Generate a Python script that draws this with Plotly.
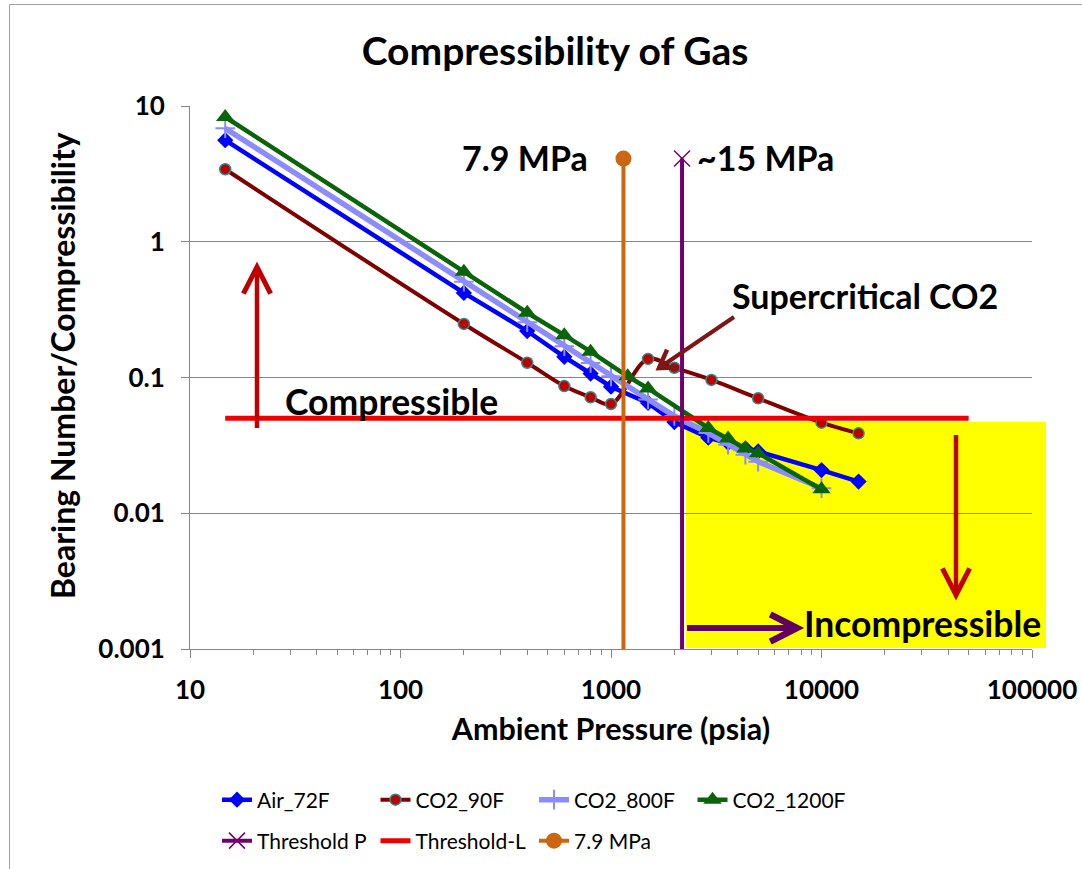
import math
import plotly.graph_objects as go

# ---- data: bearing number / compressibility vs ambient pressure (psia) ----
air_p = [14.7, 200, 400, 600, 800, 1000, 1500, 2000, 2900, 3600, 4350, 5000, 10000, 15000]
air_b = [5.6, 0.42, 0.22, 0.142, 0.107, 0.0855, 0.065, 0.047, 0.036, 0.033, 0.030, 0.0285, 0.0208, 0.0171]

co2_90_p = [14.7, 200, 400, 600, 800, 1000, 1500, 2000, 3000, 5000, 10000, 15000]
co2_90_b = [3.42, 0.248, 0.1285, 0.0865, 0.0715, 0.0638, 0.137, 0.118, 0.096, 0.0703, 0.0465, 0.0388]

co2_800_p = [14.7, 200, 400, 600, 800, 1000, 1500, 2000, 2900, 3600, 4350, 5000, 10000]
co2_800_b = [6.85, 0.508, 0.255, 0.17, 0.128, 0.102, 0.069, 0.052, 0.039, 0.032, 0.027, 0.024, 0.0153]

co2_1200_p = [14.7, 200, 400, 600, 800, 1200, 1500, 2900, 3600, 4350, 5000, 10000]
co2_1200_b = [8.3, 0.6, 0.3, 0.205, 0.155, 0.102, 0.083, 0.0425, 0.0355, 0.030, 0.0277, 0.015]

threshold_p_x = [2175, 2175]        # ~15 MPa
threshold_p_y = [4.1, 0.001]
threshold_l_x = [14.7, 50000]
threshold_l_y = [0.05, 0.05]
crit_x = [1146, 1146]               # 7.9 MPa
crit_y = [4.1, 0.001]

x_tick_vals = [10, 100, 1000, 10000, 100000]
x_tick_text = ["10", "100", "1000", "10000", "100000"]
y_tick_vals = [0.001, 0.01, 0.1, 1, 10]
y_tick_text = ["0.001", "0.01", "0.1", "1", "10"]
x_minor_vals = [m * 10 ** k for k in range(1, 5) for m in range(2, 10)]

# ---- layout geometry (pixels) ----
W, H = 1082, 869
L, R, T, B = 190, 50, 106, 220
PW = W - L - R
PH = H - T - B


def px(x):
    return (x - L) / PW


def py(y):
    return (H - B - y) / PH


FONT = "Lato"
GRID = "#868686"

fig = go.Figure()

fig.add_trace(go.Scatter(
    x=air_p, y=air_b, name="Air_72F", mode="lines+markers", legend="legend",
    line=dict(color="#0000FF", width=4.5),
    marker=dict(symbol="diamond", size=12.5, color="#0000FF")))

fig.add_trace(go.Scatter(
    x=co2_90_p, y=co2_90_b, name="CO2_90F", mode="lines+markers", legend="legend",
    line=dict(color="#800000", width=4, shape="spline", smoothing=1.0),
    marker=dict(symbol="circle", size=11, color="#C00000",
                line=dict(color="#2E8B8B", width=1.5))))

fig.add_trace(go.Scatter(
    x=co2_800_p, y=co2_800_b, name="CO2_800F", mode="lines+markers", legend="legend",
    line=dict(color="#8C8CFF", width=5.5),
    marker=dict(symbol="cross-thin", size=14, color="#8C8CFF",
                line=dict(color="#8C8CFF", width=2))))

fig.add_trace(go.Scatter(
    x=co2_1200_p, y=co2_1200_b, name="CO2_1200F", mode="lines+markers", legend="legend",
    line=dict(color="#0A640A", width=4.5),
    marker=dict(symbol="triangle-up", size=16, color="#0A640A")))

fig.add_trace(go.Scatter(
    x=threshold_l_x, y=threshold_l_y, name="Threshold-L", mode="lines", legend="legend2",
    legendrank=2,
    line=dict(color="#EE0000", width=5)))

fig.add_trace(go.Scatter(
    x=threshold_p_x, y=threshold_p_y, name="Threshold P", mode="lines+markers", legend="legend2",
    legendrank=1,
    line=dict(color="#700070", width=4),
    marker=dict(symbol="x-thin", size=16, color="#700070",
                line=dict(color=["#700070", "rgba(0,0,0,0)"], width=1.5))))

fig.add_trace(go.Scatter(
    x=crit_x, y=crit_y, name="7.9 MPa", mode="lines+markers", legend="legend2",
    legendrank=3,
    line=dict(color="#CC6611", width=4),
    marker=dict(symbol="circle", size=16, color=["#CC6611", "rgba(0,0,0,0)"])))

# incompressible region and outer frame
fig.add_shape(type="rect", xref="paper", yref="paper",
              x0=px(686), x1=px(1046), y0=py(648), y1=py(421.7),
              fillcolor="#FFFF00", line=dict(width=0), layer="below")
fig.add_shape(type="rect", xref="paper", yref="paper",
              x0=px(9.5), x1=px(1200), y0=py(1000), y1=py(4.5),
              line=dict(color="#A0A0A0", width=1), fillcolor="rgba(0,0,0,0)", layer="below")

bold = dict(family=FONT, color="black", weight="bold")

notes = [
    ("7.9 MPa", 525, 157, 34),
    ("~15 MPa", 765, 157, 34),
    ("Supercritical CO2", 865, 295, 34),
    ("Compressible", 391, 401, 35.5),
    ("Incompressible", 922, 623, 35.5),
]
for text, cx, cy, size in notes:
    fig.add_annotation(x=px(cx), y=py(cy), xref="paper", yref="paper", text=text,
                       showarrow=False, xanchor="center", yanchor="middle",
                       font=dict(size=size, **bold))

# y-axis title placed as a rotated label
fig.add_annotation(x=px(62), y=py(366), xref="paper", yref="paper",
                   text="Bearing Number/Compressibility", textangle=-90, showarrow=False,
                   xanchor="center", yanchor="middle", font=dict(size=32, **bold))


def arrow(tail, tip, color, width, arm, angle=27):
    """Straight arrow with an open chevron head, in pixel coordinates."""
    tx, ty = tail
    hx, hy = tip
    fig.add_shape(type="line", xref="paper", yref="paper",
                  x0=px(tx), y0=py(ty), x1=px(hx), y1=py(hy),
                  line=dict(color=color, width=width))
    ang = math.atan2(ty - hy, tx - hx)
    pts = []
    for s in (-1, 1):
        a = ang + s * math.radians(angle)
        pts.append((hx + arm * math.cos(a), hy + arm * math.sin(a)))
    path = "M{:.5f},{:.5f} L{:.5f},{:.5f} L{:.5f},{:.5f}".format(
        px(pts[0][0]), py(pts[0][1]), px(hx), py(hy), px(pts[1][0]), py(pts[1][1]))
    fig.add_shape(type="path", xref="paper", yref="paper", path=path,
                  line=dict(color=color, width=width + 0.5))


arrow((257, 428), (257, 267), "#C00000", 4.5, 30)
arrow((956, 435), (956, 595), "#C00000", 4.5, 30)
arrow((687, 628), (797, 628), "#600060", 6, 30)
arrow((734, 317), (659, 368), "#801515", 4, 20, angle=32)

fig.update_layout(
    width=W, height=H,
    margin=dict(l=L, r=R, t=T, b=B, autoexpand=False),
    paper_bgcolor="white", plot_bgcolor="rgba(0,0,0,0)",
    font=dict(family=FONT, color="black"),
    title=dict(text="Compressibility of Gas", xref="container", yref="container",
               x=555 / W, y=1 - 51 / H, xanchor="center", yanchor="middle",
               font=dict(size=39, **bold)),
    xaxis=dict(type="log", range=[1, 5], tickvals=x_tick_vals, ticktext=x_tick_text,
               ticks="outside", ticklen=8, tickcolor=GRID, showline=True, linecolor=GRID,
               showgrid=False, zeroline=False, tickfont=dict(size=26, **bold),
               ticklabelstandoff=10,
               minor=dict(tickvals=x_minor_vals, ticks="outside", ticklen=5,
                          tickcolor=GRID, showgrid=False),
               title=dict(text="Ambient Pressure (psia)", font=dict(size=30.5, **bold),
                          standoff=14)),
    yaxis=dict(type="log", range=[-3, 1], tickvals=y_tick_vals, ticktext=y_tick_text,
               ticks="outside", ticklen=8, tickcolor=GRID, showline=True, linecolor=GRID,
               showgrid=True, gridcolor=GRID, gridwidth=1, zeroline=False,
               tickfont=dict(size=26, **bold), ticklabelstandoff=11),
    legend=dict(orientation="h", x=px(217), y=py(800), xanchor="left", yanchor="middle",
                entrywidth=113.5, font=dict(size=21, family=FONT), bgcolor="rgba(0,0,0,0)",
                traceorder="normal"),
    legend2=dict(orientation="h", x=px(217), y=py(841), xanchor="left", yanchor="middle",
                 entrywidth=113.5, font=dict(size=21, family=FONT), bgcolor="rgba(0,0,0,0)",
                 traceorder="normal"),
)

fig.write_html("out.html")
